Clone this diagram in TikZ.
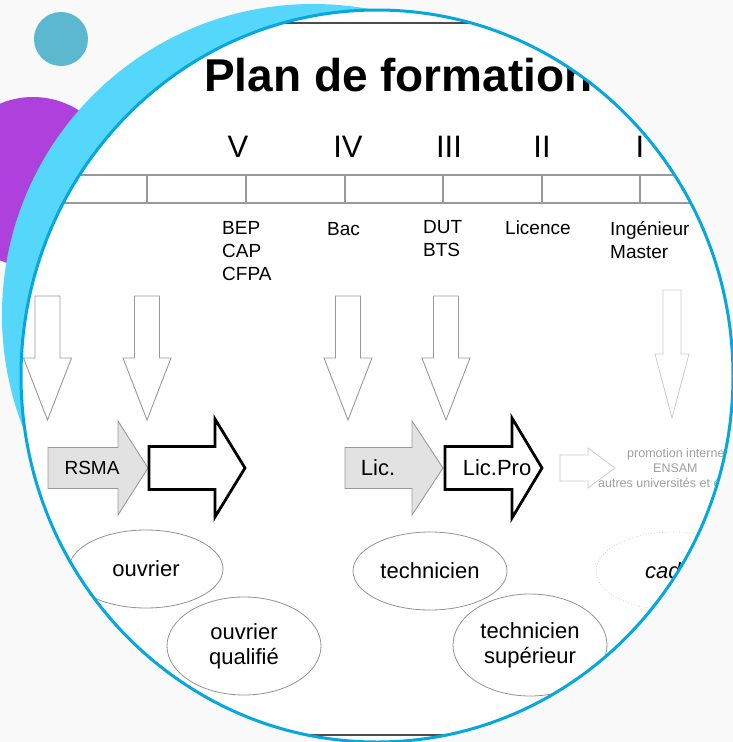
\documentclass[tikz,border=0pt]{standalone}
\usepackage{fontspec}
\setmainfont{Liberation Sans}
\usetikzlibrary{shapes.geometric}

\definecolor{pagebg}{HTML}{F9F9F9}
\definecolor{dotteal}{HTML}{5BB8CF}
\definecolor{blobpurple}{HTML}{AE40DC}
\definecolor{bandcyan}{HTML}{55D6FB}
\definecolor{ringblue}{HTML}{06A6DE}
\definecolor{linegray}{HTML}{999999}
\definecolor{blockgray}{HTML}{E2E2E2}

\tikzset{
  arrowline/.style={draw=linegray, line width=0.9pt, line join=miter},
  downbox/.style={arrowline, fill=white},
  graybox/.style={arrowline, fill=blockgray},
  boldbox/.style={draw=black, fill=white, line width=2.8pt, line join=miter},
  faintbox/.style={draw=gray!40, fill=white, line width=0.8pt},
  grade/.style={inner sep=0pt, font=\fontsize{31}{31}\selectfont},
  diploma/.style={inner sep=0pt, anchor=north west, align=left, font=\fontsize{19}{23}\selectfont},
  faint/.style={inner sep=0pt, anchor=base west, text=gray!75, font=\fontsize{12.5}{15}\selectfont},
  level/.style={ellipse, draw=gray!85, line width=0.8pt, minimum width=154pt, inner sep=0pt, align=center, font=\fontsize{22}{25}\selectfont}
}

\begin{document}
\begin{tikzpicture}[x=1pt,y=-1pt]
\useasboundingbox (0,0) rectangle (733,742);
\fill[pagebg] (0,0) rectangle (733,742);

% round frame with its decoration
\fill[dotteal] (61,39) circle [radius=27];
\fill[blobpurple] (33,182) circle [radius=85];
\fill[bandcyan] (313,315) circle [radius=311];
\fill[white] (377,376) ellipse [x radius=356, y radius=366];

\begin{scope}
\clip (377,376) ellipse [x radius=356, y radius=366];
\draw[black!70, line width=1.5pt] (0,23) -- (733,23);
\draw[black!70, line width=1.5pt] (0,735) -- (733,735);
\node[anchor=base west, inner sep=0pt, font=\bfseries\fontsize{46}{46}\selectfont] (title) at (204,91) {Plan de formation};

% levels
\draw[linegray, line width=1.2pt] (0,175) -- (733,175) (0,203) -- (733,203);
\foreach \x in {147,246,345,443,542,640}
  \draw[linegray, line width=1.2pt] (\x,175) -- (\x,203);
\node[grade] (lvV) at (238,147) {V};
\node[grade] (lvIV) at (348,147) {IV};
\node[grade] (lvIII) at (449,147) {III};
\node[grade] (lvII) at (542,147) {II};
\node[grade] (lvI) at (640,147) {I};

\node[diploma] (bep) at (222,221) {BEP\\CAP\\CFPA};
\node[diploma] (bac) at (327,222) {Bac};
\node[diploma] (dut) at (423,220) {DUT\\BTS};
\node[diploma] (licence) at (505,221) {Licence};
\node[diploma] (ing) at (610,221) {Ingénieur\\Master};

% entries
\foreach \c in {47.5,147,348,446}
  \draw[downbox] ({\c-12.5},296) -- ({\c+12.5},296) -- ({\c+12.5},358) -- ({\c+24},358)
    -- (\c,420) -- ({\c-24},358) -- ({\c-12.5},358) -- cycle;
\draw[faintbox] (663,290) -- (681,290) -- (681,354) -- (689,354) -- (672,418) -- (655,354) -- (663,354) -- cycle;

% courses
\draw[graybox] (48,447.5) -- (118,447.5) -- (118,421) -- (148,468) -- (118,515) -- (118,488.5) -- (48,488.5) -- cycle;
\draw[boldbox] (149,446.5) -- (215,446.5) -- (215,419) -- (245,468) -- (215,517) -- (215,489.5) -- (149,489.5) -- cycle;
\draw[graybox] (345,447.5) -- (412,447.5) -- (412,421) -- (443,468) -- (412,515) -- (412,488.5) -- (345,488.5) -- cycle;
\draw[boldbox] (445,446.5) -- (512,446.5) -- (512,418) -- (542,468) -- (512,518) -- (512,489.5) -- (445,489.5) -- cycle;
\draw[faintbox] (560,455) -- (588,455) -- (588,448) -- (615,468) -- (588,488) -- (588,481) -- (560,481) -- cycle;
\node[inner sep=0pt, font=\fontsize{19}{19}\selectfont] (rsma) at (92,468) {RSMA};
\node[inner sep=0pt, font=\fontsize{22}{22}\selectfont] (lic) at (378,468) {Lic.};
\node[inner sep=0pt, font=\fontsize{22}{22}\selectfont] (licpro) at (497,468) {Lic.Pro};
\node[faint] (promo) at (627,457) {promotion interne};
\node[faint] (ensam) at (653,472.5) {ENSAM};
\node[faint] (autres) at (598,487) {autres universités et é};

% jobs
\node[level, minimum height=78pt] (ouvrier) at (146,569) {ouvrier};
\node[level, minimum height=98pt] (ouvrierq) at (244,646) {ouvrier\\qualifié};
\node[level, minimum height=78pt] (techn) at (430,571) {technicien};
\node[level, minimum height=102pt] (technsup) at (530,645) {technicien\\supérieur};
\node[level, minimum height=78pt, draw=gray!35, dotted] (cadre) at (673,571) {};
\node[anchor=west, inner sep=0pt, font=\itshape\fontsize{22}{22}\selectfont] (cadtext) at (645,571) {cad};
\end{scope}

\draw[ringblue, line width=3pt] (377,376) ellipse [x radius=356, y radius=366];
\end{tikzpicture}
\end{document}
